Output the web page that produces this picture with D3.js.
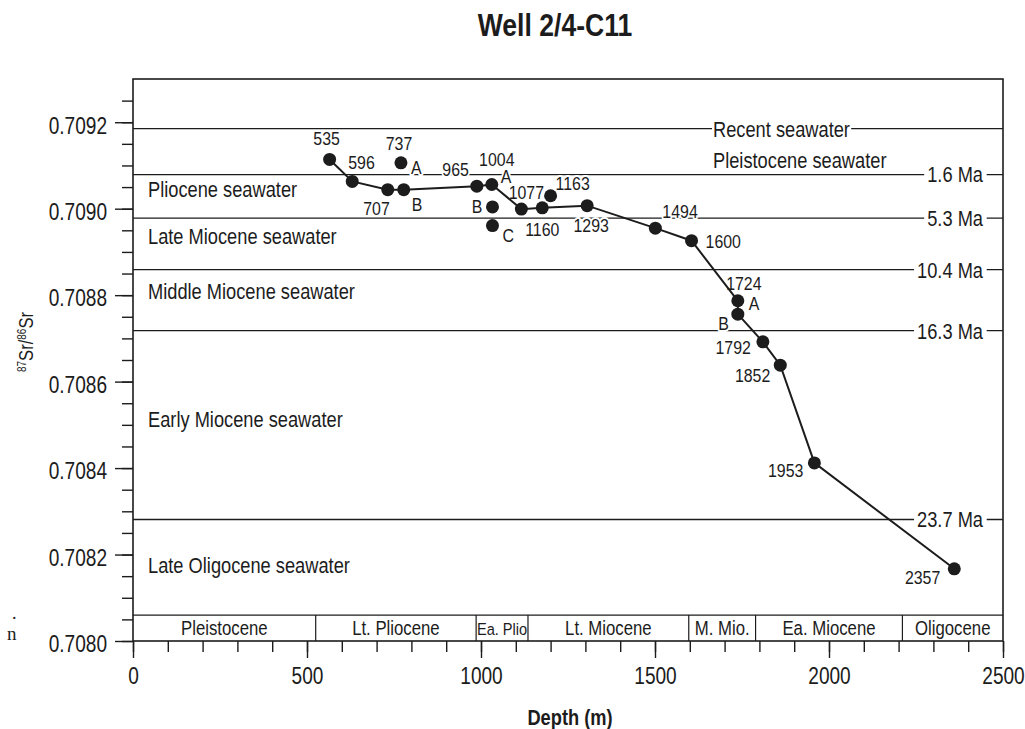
<!DOCTYPE html>
<html>
<head>
<meta charset="utf-8">
<script src="https://cdn.jsdelivr.net/npm/d3@7"></script>
<style>
  body { margin: 0; background: #fff; }
  text { font-family: "Liberation Sans", Arial, sans-serif; fill: #1c1c1c; }
  .halo { stroke: #fff; stroke-width: 4px; paint-order: stroke; stroke-linejoin: round; }
</style>
</head>
<body>
<svg width="1025" height="729"></svg>
<script>
// samples: plotted depth (m) and 87Sr/86Sr
var sampleName = ["535","596","707","737B","737A","965","1004A","1004B","1004C","1077","1160","1163","1293","1494","1600","1724A","1724B","1792","1852","1953","2357"];
var sampleDepth = [565, 630, 732, 778, 770, 988, 1031, 1033, 1033, 1116, 1176, 1200, 1305, 1501, 1605, 1738, 1738, 1810, 1860, 1958, 2360];
var sampleSr = [0.709114, 0.709063, 0.709044, 0.709044, 0.709106, 0.709052, 0.709056, 0.709004, 0.708961, 0.708999, 0.709002, 0.70903, 0.709007, 0.708955, 0.708926, 0.708787, 0.708756, 0.708692, 0.708638, 0.708412, 0.708167];
var onTrend = [1,1,1,1,0,1,1,0,0,1,1,0,1,1,1,1,1,1,1,1,1];

// seawater reference lines
var seaValue = [0.709185, 0.709079, 0.708978, 0.708859, 0.708718, 0.708281];
var seaAge = ["", "1.6 Ma", "5.3 Ma", "10.4 Ma", "16.3 Ma", "23.7 Ma"];
var zoneName = ["Recent seawater", "Pleistocene seawater", "Pliocene seawater", "Late Miocene seawater", "Middle Miocene seawater", "Early Miocene seawater", "Late Oligocene seawater"];
var zoneLabelSr = [0.709185, 0.709095, 0.709028, 0.708918, 0.708790, 0.708495, 0.708158];

// epoch strip along the bottom
var epochName = ["Pleistocene", "Lt. Pliocene", "Ea. Plio", "Lt. Miocene", "M. Mio.", "Ea. Miocene", "Oligocene"];
var epochEdge = [0, 525, 986, 1135, 1597, 1789, 2211, 2500];

var svg = d3.select("svg");
var x = d3.scaleLinear().domain([0, 2500]).range([133, 1003]);
var y = d3.scaleLinear().domain([0.7080, 0.7093]).range([641, 79]);
var ink = "#1c1c1c";
var K = 0.83;   // horizontal squeeze, the original lettering is a narrow face

var gLines = svg.append("g"), gBack = svg.append("g"), gText = svg.append("g"), gData = svg.append("g");

// move x/y into a transform so the glyphs can be squeezed
function narrow(sel, k) {
  sel.each(function() {
    var t = d3.select(this);
    var tx = +t.attr("x") || 0, ty = +t.attr("y") || 0;
    t.attr("x", 0).attr("y", 0).attr("transform", "translate(" + tx + "," + ty + ") scale(" + (k || K) + ",1)");
  });
}
function backing(sel, padX, padY) {
  sel.each(function() {
    var b = this.getBoundingClientRect();
    gBack.append("rect").attr("x", b.left - padX).attr("y", b.top + padY)
      .attr("width", b.width + 2 * padX).attr("height", b.height - 2 * padY).attr("fill", "#fff");
  });
}

// label layout: [text, dx, dy, anchor]
var lab = {
  "535": [["535", -3, -14, "middle"]],
  "596": [["596", -4, -12, "start"]],
  "707": [["707", 2, 25, "end"]],
  "737B": [["B", 8, 21, "start"]],
  "737A": [["737", -2, -13, "middle"], ["A", 10, 11, "start"]],
  "965": [["965", -8, -10, "end"]],
  "1004A": [["1004", 5, -18, "middle"], ["A", 9, -1, "start"]],
  "1004B": [["B", -10, 6, "end"]],
  "1004C": [["C", 10, 16, "start"]],
  "1077": [["1077", 5, -10, "middle"]],
  "1160": [["1160", 0, 28, "middle"]],
  "1163": [["1163", 5, -6, "start"]],
  "1293": [["1293", 4, 26, "middle"]],
  "1494": [["1494", 7, -10, "start"]],
  "1600": [["1600", 14, 7, "start"]],
  "1724A": [["1724", 6, -11, "middle"], ["A", 11, 9, "start"]],
  "1724B": [["B", -9, 16, "end"]],
  "1792": [["1792", -12, 12, "end"]],
  "1852": [["1852", -10, 17, "end"]],
  "1953": [["1953", -11, 14, "end"]],
  "2357": [["2357", -14, 15, "end"]]
};

// title
gText.append("text").attr("x", 555).attr("y", 36).attr("text-anchor", "middle")
   .style("font-size", "32px").style("font-weight", "bold").text("Well 2/4-C11").call(narrow);

// frame
gLines.append("rect").attr("x", x(0)).attr("y", y(0.7093)).attr("width", x(2500) - x(0)).attr("height", y(0.7080) - y(0.7093))
   .attr("fill", "none").attr("stroke", ink).attr("stroke-width", 1.6);

// horizontal seawater lines
gLines.selectAll(".sea").data(seaValue).enter().append("line")
   .attr("x1", x(0)).attr("x2", x(2500))
   .attr("y1", function(d) { return y(d); }).attr("y2", function(d) { return y(d); })
   .attr("stroke", ink).attr("stroke-width", 1.3);

// age labels on right
var ages = gText.selectAll(".age").data(seaValue.slice(1)).enter().append("text")
   .attr("x", 983).attr("y", function(d) { return y(d); }).attr("dy", "0.36em")
   .attr("text-anchor", "end").style("font-size", "22px")
   .text(function(d, i) { return seaAge[i + 1]; })
   .call(narrow);
ages.call(backing, 3, 4);

// zone labels
var zones = gText.selectAll(".zone").data(zoneName).enter().append("text")
   .attr("x", function(d, i) { return i < 2 ? 713 : 148; })
   .attr("y", function(d, i) { return y(zoneLabelSr[i]); })
   .attr("dy", function(d, i) { return i === 0 ? "0.36em" : "0"; })
   .style("font-size", "22px")
   .text(function(d) { return d; })
   .call(narrow);
zones.filter(function(d, i) { return i === 0; }).call(backing, 1, 4);

// epoch strip
var bandTop = y(0.70806), bandBot = y(0.7080);
gLines.append("line").attr("x1", x(0)).attr("x2", x(2500)).attr("y1", bandTop).attr("y2", bandTop)
   .attr("stroke", ink).attr("stroke-width", 1.3);
gLines.selectAll(".edge").data(epochEdge.slice(1, -1)).enter().append("line")
   .attr("x1", function(d) { return x(d); }).attr("x2", function(d) { return x(d); })
   .attr("y1", bandTop).attr("y2", bandBot).attr("stroke", ink).attr("stroke-width", 1.2);
gText.selectAll(".epoch").data(epochName).enter().append("text")
   .attr("x", function(d, i) { return (x(epochEdge[i]) + x(epochEdge[i + 1])) / 2; })
   .attr("y", bandBot - 6).attr("text-anchor", "middle")
   .style("font-size", function(d) { return d === "Ea. Plio" ? "17px" : "19.5px"; })
   .text(function(d) { return d; })
   .call(narrow, 0.86);

// axes
var xMinor = gLines.append("g").attr("transform", "translate(0," + bandBot + ")")
   .call(d3.axisBottom(x).tickValues(d3.range(0, 2501, 100)).tickSize(11).tickFormat(""));
var xMajor = gLines.append("g").attr("transform", "translate(0," + bandBot + ")")
   .call(d3.axisBottom(x).tickValues(d3.range(0, 2501, 500)).tickSize(17).tickPadding(4).tickFormat(d3.format("d")));
var yMinor = gLines.append("g").attr("transform", "translate(" + x(0) + ",0)")
   .call(d3.axisLeft(y).tickValues(d3.range(0, 26).map(function(i) { return 0.7080 + i * 0.00005; })).tickSize(11).tickFormat(""));
var yMajor = gLines.append("g").attr("transform", "translate(" + x(0) + ",0)")
   .call(d3.axisLeft(y).tickValues([0.7080, 0.7082, 0.7084, 0.7086, 0.7088, 0.7090, 0.7092]).tickSize(18).tickPadding(8).tickFormat(d3.format(".4f")));
[xMinor, xMajor, yMinor, yMajor].forEach(function(g) {
  g.select(".domain").remove();
  g.selectAll(".tick line").attr("stroke", ink).attr("stroke-width", 1.4);
  g.selectAll("text").attr("fill", ink).style("font-size", "23px")
   .style("font-family", "'Liberation Sans', Arial, sans-serif");
});
yMajor.selectAll("text").attr("dy", "0.47em").call(narrow);
xMajor.selectAll("text").attr("dy", "0.95em").call(narrow);

gText.append("text").attr("x", 570).attr("y", 725).attr("text-anchor", "middle")
   .style("font-size", "22px").style("font-weight", "bold").text("Depth (m)").call(narrow);

var yl = gText.append("text").attr("transform", "translate(33,342) rotate(-90) scale(" + K + ",1)")
   .attr("text-anchor", "middle").style("font-size", "20px");
yl.append("tspan").attr("baseline-shift", "super").style("font-size", "12px").text("87");
yl.append("tspan").text("Sr/");
yl.append("tspan").attr("baseline-shift", "super").style("font-size", "12px").text("86");
yl.append("tspan").text("Sr");

// stray characters from the scanned page margin
gText.append("text").attr("x", 12).attr("y", 619).style("font-family", "'Liberation Serif', serif").style("font-size", "18px").text(".");
gText.append("text").attr("x", 7).attr("y", 640).style("font-family", "'Liberation Serif', serif").style("font-size", "19px").text("n");

// samples
var pts = sampleName.map(function(n, i) { return { name: n, d: sampleDepth[i], v: sampleSr[i], on: onTrend[i] }; });

var labels = [];
pts.forEach(function(p) { (lab[p.name] || []).forEach(function(l) { labels.push({ p: p, l: l }); }); });
gText.selectAll(".plab").data(labels).enter().append("text")
   .attr("class", "halo")
   .attr("x", function(d) { return x(d.p.d) + d.l[1]; })
   .attr("y", function(d) { return y(d.p.v) + d.l[2]; })
   .attr("text-anchor", function(d) { return d.l[3]; })
   .style("font-size", "18.5px")
   .text(function(d) { return d.l[0]; })
   .call(narrow, 0.86);

var line = d3.line().x(function(d) { return x(d.d); }).y(function(d) { return y(d.v); });
gData.append("path").datum(pts.filter(function(p) { return p.on; }))
   .attr("d", line).attr("fill", "none").attr("stroke", ink).attr("stroke-width", 2);

gData.selectAll(".dot").data(pts).enter().append("circle")
   .attr("cx", function(d) { return x(d.d); }).attr("cy", function(d) { return y(d.v); })
   .attr("r", 6.5).attr("fill", ink);
</script>
</body>
</html>
